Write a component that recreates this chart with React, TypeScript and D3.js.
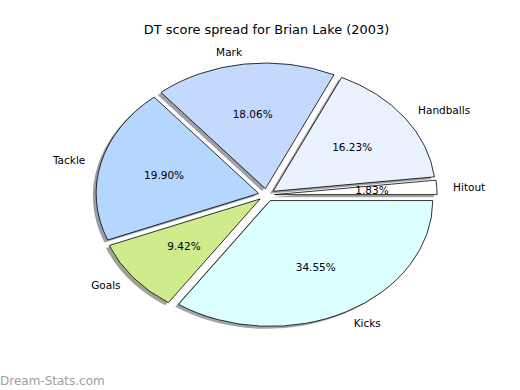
import { useRef, useEffect } from "react";
import * as d3 from "d3";

// slices in drawing order (counter-clockwise from 3 o'clock)
const categories = ["Hitout", "Handballs", "Mark", "Tackle", "Goals", "Kicks"];
const shares = [1.83, 16.23, 18.06, 19.9, 9.42, 34.55];
const colors = ["#ffffff", "#ebf2ff", "#c5d9ff", "#b4d6ff", "#d0eb8c", "#dcffff"];

const W = 520;
const H = 390;

export default function App() {
  const ref = useRef<SVGSVGElement>(null);

  useEffect(() => {
    const svg = d3.select(ref.current);
    svg.selectAll("*").remove();

    // axes box like matplotlib's default subplot
    const cx = 266.5;
    const cy = 195;
    const rx = 162.5;
    const ry = 125.8;
    const explode = 0.05;

    const pie = d3
      .pie<number>()
      .sort(null)
      .startAngle(Math.PI / 2)
      .endAngle(Math.PI / 2 - 2 * Math.PI);
    const arcs = pie(shares);
    const arc = d3.arc<d3.PieArcDatum<number>>().innerRadius(0).outerRadius(1);

    const items = arcs.map((a, i) => {
      const m = (a.startAngle + a.endAngle) / 2;
      const ox = cx + explode * rx * Math.sin(m);
      const oy = cy - explode * ry * Math.cos(m);
      return { a, i, m, ox, oy };
    });

    // shadows first, under every wedge
    svg
      .append("g")
      .selectAll("path")
      .data(items)
      .enter()
      .append("path")
      .attr("d", (d) => arc(d.a))
      .attr(
        "transform",
        (d) => `translate(${d.ox - 0.02 * rx},${d.oy + 0.02 * ry}) scale(${rx},${ry})`
      )
      .attr("fill", (d) => {
        const c = d3.rgb(colors[d.i]);
        return `rgba(${c.r * 0.3},${c.g * 0.3},${c.b * 0.3},0.5)`;
      })
      .attr("stroke", "none");

    svg
      .append("g")
      .selectAll("path")
      .data(items)
      .enter()
      .append("path")
      .attr("d", (d) => arc(d.a))
      .attr("transform", (d) => `translate(${d.ox},${d.oy}) scale(${rx},${ry})`)
      .attr("fill", (d) => colors[d.i])
      .attr("stroke", "#000")
      .attr("stroke-width", 0.8)
      .attr("vector-effect", "non-scaling-stroke");

    // category labels
    svg
      .append("g")
      .selectAll("text")
      .data(items)
      .enter()
      .append("text")
      .attr("x", (d) => d.ox + 1.1 * rx * Math.sin(d.m))
      .attr("y", (d) => d.oy - 1.1 * ry * Math.cos(d.m))
      .attr("text-anchor", (d) => (Math.sin(d.m) > 0 ? "start" : "end"))
      .attr("dominant-baseline", "central")
      .style("font-family", "DejaVu Sans")
      .style("font-size", "10.5px")
      .text((d) => categories[d.i]);

    // percentages
    svg
      .append("g")
      .selectAll("text")
      .data(items)
      .enter()
      .append("text")
      .attr("x", (d) => d.ox + 0.6 * rx * Math.sin(d.m))
      .attr("y", (d) => d.oy - 0.6 * ry * Math.cos(d.m))
      .attr("text-anchor", "middle")
      .attr("dominant-baseline", "central")
      .style("font-family", "DejaVu Sans")
      .style("font-size", "10.5px")
      .text((d) => `${shares[d.i].toFixed(2)}%`);

    svg
      .append("text")
      .attr("x", 266.5)
      .attr("y", 34)
      .attr("text-anchor", "middle")
      .style("font-family", "DejaVu Sans")
      .style("font-size", "12.9px")
      .text("DT score spread for Brian Lake (2003)");

    svg
      .append("text")
      .attr("x", 0)
      .attr("y", 385)
      .style("font-family", "DejaVu Sans")
      .style("font-size", "12px")
      .style("fill", "#a0a0a0")
      .text("Dream-Stats.com");
  }, []);

  return (
    <svg
      ref={ref}
      width={W}
      height={H}
      style={{ position: "absolute", left: 0, top: 0, background: "#fff" }}
    />
  );
}
